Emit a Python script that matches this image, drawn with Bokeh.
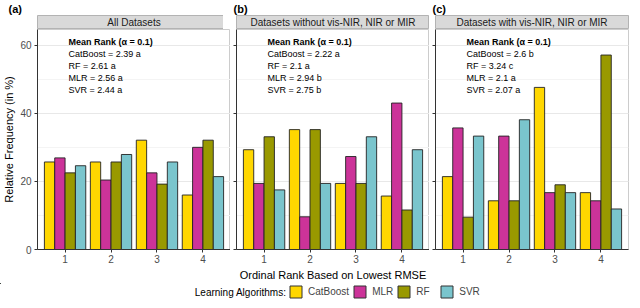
from bokeh.plotting import figure
from bokeh.layouts import column, row
from bokeh.models import (Range1d, FixedTicker, SingleIntervalTicker, Label,
                          Legend, LegendItem, ColumnDataSource, CustomLabelingPolicy)
from bokeh.transform import dodge
from bokeh.embed import file_html
from bokeh.resources import INLINE

FONT = "Liberation Sans"

# ---------------- data ----------------
ranks = [1, 2, 3, 4]
algorithms = ["CatBoost", "MLR", "RF", "SVR"]
colors = ["#FFD700", "#CC3399", "#999900", "#7AC5CD"]
panel_tags = ["(a)", "(b)", "(c)"]
panel_titles = ["All Datasets", "Datasets without vis-NIR, NIR or MIR",
                "Datasets with vis-NIR, NIR or MIR"]

all_catboost = [25.7, 25.7, 32.1, 16.0]
all_mlr = [26.9, 20.4, 22.5, 30.0]
all_rf = [22.5, 25.7, 19.2, 32.1]
all_svr = [24.6, 27.9, 25.7, 21.4]

without_catboost = [29.3, 35.2, 19.4, 15.7]
without_mlr = [19.4, 9.6, 27.3, 43.0]
without_rf = [33.1, 35.2, 19.4, 11.6]
without_svr = [17.5, 19.4, 33.1, 29.3]

with_catboost = [21.4, 14.3, 47.6, 16.7]
with_mlr = [35.7, 33.3, 16.7, 14.3]
with_rf = [9.5, 14.3, 19.0, 57.1]
with_svr = [33.3, 38.1, 16.7, 11.9]

mean_rank_header = "Mean Rank (\u03b1 = 0.1)"
all_mean_ranks = ["CatBoost = 2.39 a", "RF =  2.61 a", "MLR =  2.56 a", "SVR =  2.44 a"]
without_mean_ranks = ["CatBoost = 2.22 a", "RF =  2.1 a", "MLR =  2.94 b", "SVR =  2.75 b"]
with_mean_ranks = ["CatBoost = 2.6 b", "RF =  3.24 c", "MLR =  2.1 a", "SVR =  2.07 a"]

x_title = "Ordinal Rank Based on Lowest RMSE"
y_title = "Relative Frequency (in %)"
legend_title = "Learning Algorithms:"

panels = [
    (all_catboost, all_mlr, all_rf, all_svr, all_mean_ranks),
    (without_catboost, without_mlr, without_rf, without_svr, without_mean_ranks),
    (with_catboost, with_mlr, with_rf, with_svr, with_mean_ranks),
]

# ---------------- layout constants ----------------
FW, FH = 193, 220
LEFT = [30, 6, 6]
RIGHT = [0, 0, 3]
TAG_OFFSET = [-29, -3, -3]
BAR_W = 0.225
OFFSETS = [-0.3375, -0.1125, 0.1125, 0.3375]

hide_labels = CustomLabelingPolicy(code="""
    const out = []
    for (const i of indices) out.push(i)
    for (const i of out) indices.unset(i)
    return indices
""")


def make_strip(i):
    s = figure(frame_width=FW, frame_height=14, x_range=Range1d(0, 1), y_range=Range1d(0, 1),
               x_axis_type=None, y_axis_type=None, toolbar_location=None,
               output_backend="svg", min_border_left=LEFT[i], min_border_right=RIGHT[i],
               min_border_top=0, min_border_bottom=0, title=panel_tags[i])
    s.background_fill_color = "#d9d9d9"
    s.outline_line_color = "#b3b3b3"
    s.border_fill_color = "white"
    s.title.align = "left"
    s.title.offset = TAG_OFFSET[i]
    s.title.text_font = FONT
    s.title.text_font_size = "11px"
    s.title.text_font_style = "bold"
    s.title.text_color = "#000000"
    s.title.standoff = 1
    s.add_layout(Label(x=0.5, y=0.5, text=panel_titles[i], text_align="center",
                       text_baseline="middle", text_font=FONT, text_font_size="10px",
                       text_color="#1a1a1a"))
    return s


def make_panel(i):
    cat, mlr, rf, svr, means = panels[i]
    src = ColumnDataSource(dict(rank=ranks, CatBoost=cat, MLR=mlr, RF=rf, SVR=svr))
    p = figure(frame_width=FW, frame_height=FH, x_range=Range1d(0.4, 4.6),
               y_range=Range1d(0, 64.6), toolbar_location=None, output_backend="svg",
               min_border_left=LEFT[i], min_border_right=RIGHT[i], min_border_top=0,
               min_border_bottom=34)
    for algo, col, off in zip(algorithms, colors, OFFSETS):
        p.vbar(x=dodge("rank", off, range=p.x_range), top=algo, width=BAR_W, source=src,
               fill_color=col, line_color="#222222", line_width=0.9)
    p.outline_line_color = "#cccccc"
    p.background_fill_color = "white"
    p.xgrid.grid_line_color = None
    p.yaxis.ticker = SingleIntervalTicker(interval=20, num_minor_ticks=2)
    p.ygrid.grid_line_color = "#e8e8e8"
    p.ygrid.minor_grid_line_color = "#f4f4f4"
    p.xaxis.ticker = FixedTicker(ticks=ranks)
    for ax in (p.xaxis[0], p.yaxis[0]):
        ax.axis_line_color = "#333333"
        ax.major_tick_line_color = "#333333"
        ax.major_tick_out = 3
        ax.major_tick_in = 0
        ax.minor_tick_line_color = None
        ax.major_label_text_font = FONT
        ax.major_label_text_font_size = "10px"
        ax.major_label_text_color = "#4d4d4d"
        ax.major_label_standoff = 2
        ax.axis_label_text_font = FONT
        ax.axis_label_text_font_size = "11px"
        ax.axis_label_text_font_style = "normal"
        ax.axis_label_text_color = "#000000"
    if i == 0:
        p.yaxis.axis_label = y_title
        p.yaxis.axis_label_standoff = 2
    else:
        p.yaxis.major_label_policy = hide_labels
        p.yaxis.major_label_text_font_size = "0px"
        p.yaxis.major_label_standoff = 0
    if i == 1:
        p.xaxis.axis_label = x_title
        p.xaxis.axis_label_standoff = 3
    # mean rank annotations
    lines = [mean_rank_header] + means
    for k, t in enumerate(lines):
        p.add_layout(Label(x=31, y=FH - 12 - 12 * k, x_units="screen", y_units="screen",
                           text=t, text_font=FONT, text_font_size="9px",
                           text_font_style="bold" if k == 0 else "normal",
                           text_baseline="middle", text_align="left", text_color="#000000"))
    return p


cols = []
for i in range(3):
    cols.append(column(make_strip(i), make_panel(i)))

# legend strip: swatches come from real bar renderers kept far outside the visible ranges
lf = figure(width=624, height=17, x_range=Range1d(5000, 5001), y_range=Range1d(-6000, -5000),
            x_axis_type=None, y_axis_type=None, toolbar_location=None,
            output_backend="svg", min_border=0)
lf.outline_line_color = None
lf.xgrid.visible = False
lf.ygrid.visible = False
lsrc = ColumnDataSource(dict(rank=ranks, CatBoost=all_catboost, MLR=all_mlr,
                             RF=all_rf, SVR=all_svr))
items = []
for algo, col in zip(algorithms, colors):
    r = lf.vbar(x="rank", top=algo, width=0.2, source=lsrc, fill_color=col,
                line_color="#333333", line_width=1)
    items.append(LegendItem(label=algo, renderers=[r]))
LEG_X = 288
leg = Legend(items=items, orientation="horizontal", location=(LEG_X, 1),
             glyph_width=15, glyph_height=15, label_height=15, label_standoff=5,
             spacing=3, padding=0, margin=0, border_line_color=None,
             background_fill_alpha=0, label_text_font=FONT, label_text_font_size="10px",
             label_text_baseline="middle")
lf.add_layout(leg, "center")
lf.add_layout(Label(x=LEG_X - 2, y=8.5, x_units="screen", y_units="screen",
                    text=legend_title, text_align="right", text_baseline="middle",
                    text_font=FONT, text_font_size="10px", text_color="#000000"))

layout = column(row(*cols), lf)

open("out.html", "w").write(file_html(layout, INLINE))
